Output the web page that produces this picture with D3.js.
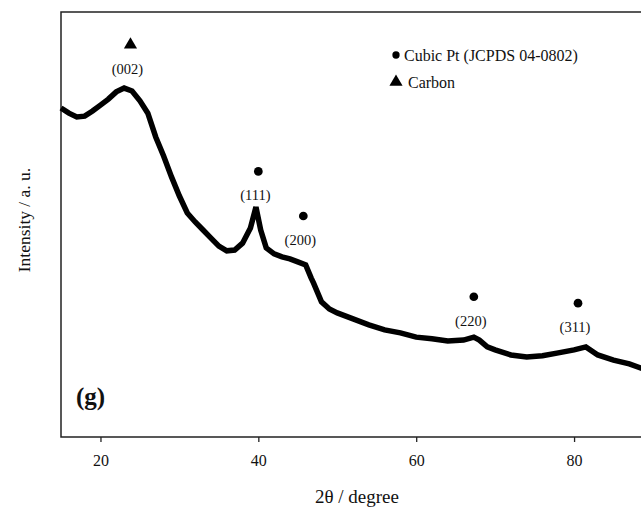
<!DOCTYPE html>
<html>
<head>
<meta charset="utf-8">
<script src="https://cdn.jsdelivr.net/npm/d3@7"></script>
<style>
  body { margin: 0; background: #fff; }
  text { font-family: "Liberation Serif", "Times New Roman", serif; fill: #111; }
</style>
</head>
<body>
<svg id="xrd"></svg>
<script>
const width = 641, height = 508;
const margin = { top: 12, bottom: 71, left: 61 };

// XRD pattern (2theta in degrees, intensity in arbitrary units)
const twoTheta = [15, 16, 17, 18, 19, 20, 21, 22, 23, 24, 25, 26, 27, 28, 29, 30, 31, 32, 33, 34, 35, 36, 37, 38, 39, 39.7, 40.3, 41, 42, 43, 44, 45, 46, 46.7, 47, 48, 49, 50, 52, 54, 56, 58, 60, 62, 64, 66, 67.3, 68, 69, 70, 72, 74, 76, 78, 80, 81.5, 83, 85, 87, 88.5, 90];
const intensity = [77.4, 76.2, 75.3, 75.5, 76.7, 78.1, 79.5, 81.2, 82.1, 81.4, 79.1, 76.2, 70.6, 66.1, 61.2, 56.7, 52.7, 50.6, 48.7, 46.8, 44.9, 43.8, 44.0, 45.6, 49.2, 54.1, 48.7, 44.5, 43.1, 42.4, 41.9, 41.2, 40.5, 37.4, 36.2, 31.8, 30.1, 29.2, 27.8, 26.4, 25.2, 24.5, 23.5, 23.1, 22.6, 22.8, 23.5, 22.8, 21.2, 20.5, 19.3, 18.8, 19.1, 19.8, 20.5, 21.2, 19.3, 18.1, 17.2, 16.2, 15.5];

// peak markers: position, marker height and label
const peakPos = [23.8, 40.0, 45.7, 67.3, 80.5];
const peakMarkY = [92.3, 62.5, 52, 33, 31.5];
const peakLabels = ["(002)", "(111)", "(200)", "(220)", "(311)"];
const peakPhase = ["Carbon", "Pt", "Pt", "Pt", "Pt"];

const xTicks = [20, 40, 60, 80];
const legendItems = ["Cubic Pt (JCPDS 04-0802)", "Carbon"];

const svg = d3.select("#xrd")
    .attr("width", width)
    .attr("height", height);

const xScale = d3.scaleLinear()
    .domain([15, 90])
    .range([margin.left, 653]);

const yScale = d3.scaleLinear()
    .domain([0, 100])
    .range([height - margin.bottom, margin.top]);

const bottom = height - margin.bottom;

// frame
svg.append("path")
    .attr("d", `M${width + 5},${margin.top} H${margin.left} V${bottom} H${width + 5}`)
    .attr("fill", "none")
    .attr("stroke", "#222")
    .attr("stroke-width", 1.5);

// x axis ticks
const xAxis = svg.append("g")
    .attr("transform", `translate(0, ${bottom})`)
    .call(d3.axisBottom(xScale).tickValues(xTicks).tickSize(5).tickPadding(13).tickSizeOuter(0));
xAxis.select(".domain").remove();
xAxis.selectAll("line").attr("stroke", "#222").attr("stroke-width", 1.3);
xAxis.selectAll("text")
    .style("font-family", "Liberation Serif, serif")
    .style("font-size", "16px")
    .attr("fill", "#111");

// axis titles
svg.append("text")
    .attr("x", 357)
    .attr("y", 503)
    .attr("text-anchor", "middle")
    .style("font-size", "19px")
    .text("2θ / degree");

svg.append("text")
    .attr("transform", "translate(30, 220) rotate(-90)")
    .attr("text-anchor", "middle")
    .style("font-size", "17.5px")
    .text("Intensity / a. u.");

// pattern
const line = d3.line()
    .x((d, i) => xScale(twoTheta[i]))
    .y(d => yScale(d));

svg.append("path")
    .datum(intensity)
    .attr("fill", "none")
    .attr("stroke", "#000")
    .attr("stroke-width", 5.5)
    .attr("d", line);

// peak markers
const triangle = d3.symbol().type(d3.symbolTriangle).size(75);
const dot = d3.symbol().type(d3.symbolCircle).size(60);

peakPos.forEach(function(p, i) {
    const cx = xScale(p), cy = yScale(peakMarkY[i]);
    svg.append("path")
        .attr("transform", `translate(${cx}, ${cy})`)
        .attr("d", peakPhase[i] === "Carbon" ? triangle() : dot())
        .attr("fill", "#000");
    svg.append("text")
        .attr("x", cx - 3)
        .attr("y", cy + 29)
        .attr("text-anchor", "middle")
        .style("font-size", "14.5px")
        .attr("fill", "#333")
        .text(peakLabels[i]);
});

// legend
const legend = svg.selectAll(".legend")
    .data(legendItems)
    .enter().append("g")
    .attr("class", "legend")
    .attr("transform", (d, i) => `translate(396, ${55 + i * 27})`);

legend.append("path")
    .attr("d", (d, i) => i === 0 ? d3.symbol().type(d3.symbolCircle).size(42)() : triangle())
    .attr("fill", "#000");

legend.append("text")
    .attr("x", (d, i) => i === 0 ? 8 : 12)
    .attr("y", 5.5)
    .style("font-size", "16px")
    .text(d => d);

// panel tag
svg.append("text")
    .attr("x", 76)
    .attr("y", 405)
    .style("font-size", "25px")
    .style("font-weight", "bold")
    .attr("fill", "#000")
    .text("(g)");
</script>
</body>
</html>
